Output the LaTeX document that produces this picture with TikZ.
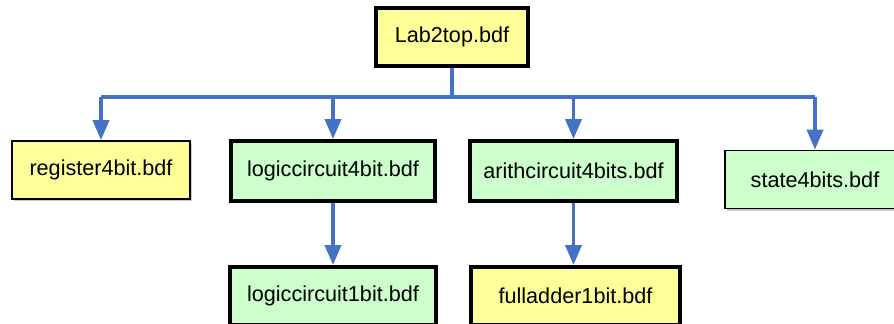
\documentclass[tikz,border=0pt]{standalone}
\usepackage{fontspec}
\setmainfont{Liberation Sans}
\usetikzlibrary{arrows.meta,shadows}

\definecolor{bdfyellow}{RGB}{255,255,153}
\definecolor{bdfgreen}{RGB}{204,255,204}
\definecolor{linkblue}{RGB}{68,114,196}

\begin{document}
\begin{tikzpicture}[
    x=0.02cm, y=-0.02cm,
    file/.style={rectangle, draw=black, line width=2.2pt, minimum height=1.16cm, inner sep=2pt,
        font=\fontsize{12.3}{14}\selectfont,
        drop shadow={shadow xshift=1.2pt, shadow yshift=-1.2pt, fill=black!35, opacity=0.6}},
    thin file/.style={file, line width=1pt},
    link/.style={draw=linkblue, line width=2.1pt},
    arrow/.style={link, -{Triangle[length=0.4cm, width=0.32cm]}}
]
    \useasboundingbox (0,0) rectangle (894,324);

    % Fichiers
    \node[file, fill=bdfyellow, minimum width=3.04cm] (top) at (452,37) {Lab2top.bdf};
    \node[thin file, fill=bdfyellow, minimum width=3.56cm] (reg) at (101,170) {register4bit.bdf};
    \node[file, fill=bdfgreen, minimum width=4.08cm, minimum height=1.2cm] (logicA) at (333,171) {logiccircuit4bit.bdf};
    \node[file, fill=bdfgreen, minimum width=4.14cm, minimum height=1.2cm] (arithA) at (573.5,171) {arithcircuit4bits.bdf};
    \node[thin file, fill=bdfgreen, minimum width=3.6cm] (state) at (815,179.5) {state4bits.bdf};
    \node[file, fill=bdfgreen, minimum width=4.12cm] (logicB) at (333,296) {logiccircuit1bit.bdf};
    \node[file, fill=bdfyellow, minimum width=4.18cm] (adder) at (575.5,296) {fulladder1bit.bdf};

    % Bus
    \coordinate (bus) at (452,97);
    \draw[link] (top.south) -- (bus);
    \draw[link] (reg.north |- bus) -- (state.north |- bus);

    % Flèches
    \foreach \n in {reg,logicA,arithA,state}
        \draw[arrow] (\n.north |- bus) -- (\n.north);
    \draw[arrow] (logicA.south) -- (logicA.south |- logicB.north);
    \draw[arrow] (arithA.south) -- (arithA.south |- adder.north);

\end{tikzpicture}
\end{document}
